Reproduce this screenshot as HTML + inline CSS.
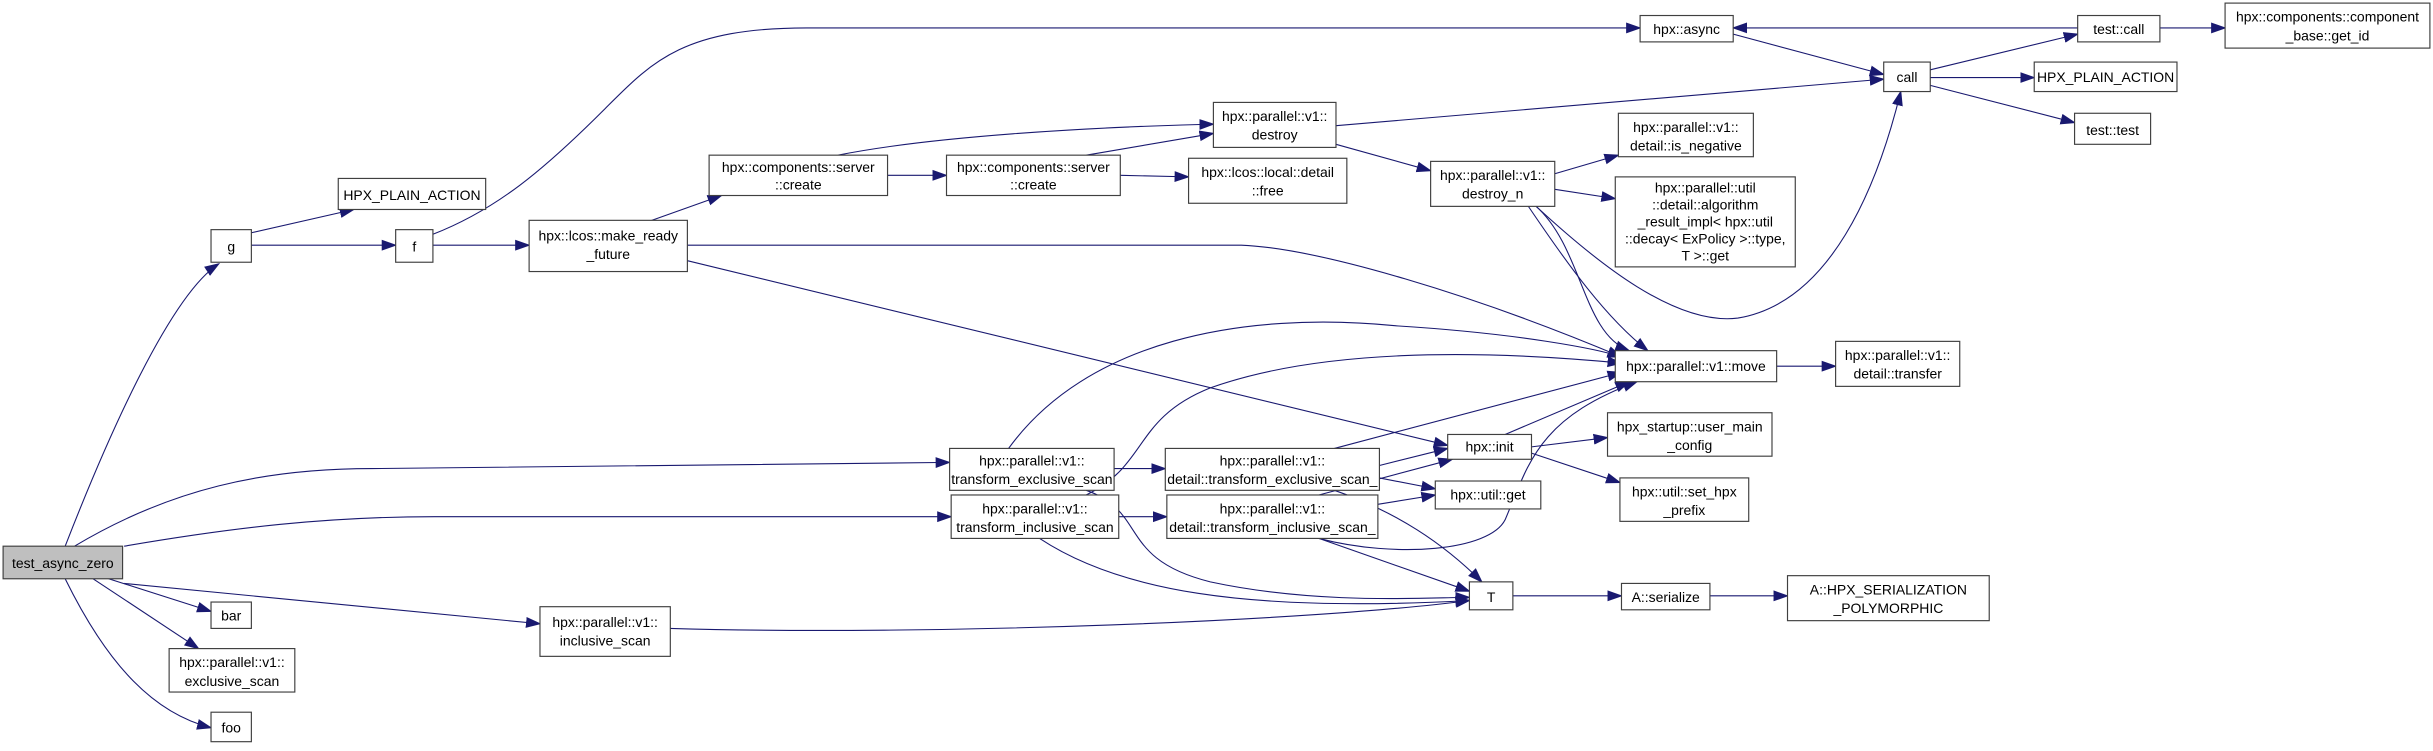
<!DOCTYPE html>
<html><head><meta charset="utf-8"><style>
html,body{margin:0;padding:0;background:#fff;}
svg{display:block;}
text{font-family:"Liberation Sans",sans-serif;font-size:9px;fill:#000;text-anchor:middle;}
.b{fill:#fff;stroke:#404040;stroke-width:0.75;}
.e{fill:none;stroke:#191970;stroke-width:0.7;}
</style></head><body>
<svg width="2433" height="751" viewBox="0 0 1568 484" preserveAspectRatio="none" xmlns="http://www.w3.org/2000/svg">
<defs><marker id="a" markerWidth="10" markerHeight="8" refX="9" refY="4" orient="auto" markerUnits="userSpaceOnUse"><path d="M0,0.5 L10,4 L0,7.5 z" fill="#191970"/></marker></defs>
<g class="e" marker-end="url(#a)">
<path d="M42,352 C70,280 110,190 141,170"/>
<path d="M162,150 L228,135"/>
<path d="M162,158 L255,158"/>
<path d="M279,151 C320,135 350,110 390,70 C420,40 440,18 520,18 L1057,18"/>
<path d="M279,158 L341,158"/>
<path d="M420,142 L465,126"/>
<path d="M443,158 L800,158 C850,160 950,190 1045,230"/>
<path d="M443,168 L933,287"/>
<path d="M572,113 L610,113"/>
<path d="M540,100 C600,88 700,82 782,80"/>
<path d="M700,100 L782,86"/>
<path d="M722,113 L766,114"/>
<path d="M861,81 L1214,51"/>
<path d="M861,93 L922,110"/>
<path d="M1002,112 L1043,100"/>
<path d="M1002,122 L1041,128"/>
<path d="M990,133 C1030,170 1080,210 1120,205 C1180,195 1210,120 1225,59"/>
<path d="M990,133 C1020,160 1020,215 1050,226"/>
<path d="M985,133 C1010,170 1035,205 1062,226"/>
<path d="M1117,22 L1214,48"/>
<path d="M1339,18 L1117,18"/>
<path d="M1244,45 L1339,22"/>
<path d="M1244,50 L1311,50"/>
<path d="M1244,55 L1337,79"/>
<path d="M1392,18 L1434,18"/>
<path d="M1145,236 L1183,236"/>
<path d="M48,352 C110,315 170,302 240,302 L612,298"/>
<path d="M80,352 C150,340 210,333 280,333 L613,333"/>
<path d="M70,373 L136,394"/>
<path d="M60,373 L128,418"/>
<path d="M42,373 C70,430 100,460 136,469"/>
<path d="M80,376 L348,402"/>
<path d="M432,405 C600,410 850,400 947,387"/>
<path d="M650,289 C700,220 800,200 900,210 C980,215 1030,225 1045,230"/>
<path d="M718,302 L751,302"/>
<path d="M700,316 C740,330 720,360 780,375 C850,390 920,385 947,385"/>
<path d="M700,319 C740,300 730,270 780,250 C850,225 950,225 1045,234"/>
<path d="M721,333 L752,333"/>
<path d="M670,347 C720,380 800,395 947,387"/>
<path d="M860,289 L1045,240"/>
<path d="M889,300 L933,289"/>
<path d="M889,308 L925,315"/>
<path d="M860,316 C900,330 930,350 955,375"/>
<path d="M850,319 L936,296"/>
<path d="M888,325 L925,319"/>
<path d="M850,347 L947,381"/>
<path d="M850,347 C900,360 960,355 970,335 C985,300 990,270 1055,246"/>
<path d="M970,280 L1050,246"/>
<path d="M987,288 L1036,282"/>
<path d="M987,292 L1044,311"/>
<path d="M975,384 L1045,384"/>
<path d="M1102,384 L1152,384"/>
</g>
<g>
<rect x="2" y="352" width="77" height="21" style="fill:#bfbfbf;stroke:#404040;stroke-width:0.75"/><text x="40.5" y="366">test_async_zero</text>
<rect class="b" x="136" y="148" width="26" height="21"/><text x="149" y="162">g</text>
<rect class="b" x="218" y="115" width="95" height="20"/><text x="265.5" y="129">HPX_PLAIN_ACTION</text>
<rect class="b" x="255" y="148" width="24" height="21"/><text x="267" y="162">f</text>
<rect class="b" x="341" y="142" width="102" height="33"/><text x="392" y="155">hpx::lcos::make_ready</text><text x="392" y="167">_future</text>
<rect class="b" x="457" y="100" width="115" height="26"/><text x="514.5" y="111">hpx::components::server</text><text x="514.5" y="122">::create</text>
<rect class="b" x="610" y="100" width="112" height="26"/><text x="666" y="111">hpx::components::server</text><text x="666" y="122">::create</text>
<rect class="b" x="782" y="66" width="79" height="29"/><text x="821.5" y="78">hpx::parallel::v1::</text><text x="821.5" y="90">destroy</text>
<rect class="b" x="766" y="102" width="102" height="29"/><text x="817" y="114">hpx::lcos::local::detail</text><text x="817" y="126">::free</text>
<rect class="b" x="922" y="104" width="80" height="29"/><text x="962" y="116">hpx::parallel::v1::</text><text x="962" y="128">destroy_n</text>
<rect class="b" x="1057" y="10" width="60" height="17"/><text x="1087" y="22">hpx::async</text>
<rect class="b" x="1214" y="40" width="30" height="19"/><text x="1229" y="53">call</text>
<rect class="b" x="1339" y="10" width="53" height="17"/><text x="1365.5" y="22">test::call</text>
<rect class="b" x="1434" y="2" width="132" height="29"/><text x="1500" y="14">hpx::components::component</text><text x="1500" y="26">_base::get_id</text>
<rect class="b" x="1311" y="40" width="92" height="19"/><text x="1357" y="53">HPX_PLAIN_ACTION</text>
<rect class="b" x="1337" y="73" width="49" height="20"/><text x="1361.5" y="87">test::test</text>
<rect class="b" x="1043" y="73" width="87" height="28"/><text x="1086.5" y="85">hpx::parallel::v1::</text><text x="1086.5" y="97">detail::is_negative</text>
<rect class="b" x="1041" y="114" width="116" height="58"/><text x="1099" y="124">hpx::parallel::util</text><text x="1099" y="135">::detail::algorithm</text><text x="1099" y="146">_result_impl&lt; hpx::util</text><text x="1099" y="157">::decay&lt; ExPolicy &gt;::type,</text><text x="1099" y="168">T &gt;::get</text>
<rect class="b" x="1041" y="226" width="104" height="20"/><text x="1093" y="239">hpx::parallel::v1::move</text>
<rect class="b" x="1183" y="220" width="80" height="29"/><text x="1223" y="232">hpx::parallel::v1::</text><text x="1223" y="244">detail::transfer</text>
<rect class="b" x="612" y="289" width="106" height="27"/><text x="665" y="300">hpx::parallel::v1::</text><text x="665" y="312">transform_exclusive_scan</text>
<rect class="b" x="613" y="319" width="108" height="28"/><text x="667" y="331">hpx::parallel::v1::</text><text x="667" y="343">transform_inclusive_scan</text>
<rect class="b" x="751" y="289" width="138" height="27"/><text x="820" y="300">hpx::parallel::v1::</text><text x="820" y="312">detail::transform_exclusive_scan_</text>
<rect class="b" x="752" y="319" width="136" height="28"/><text x="820" y="331">hpx::parallel::v1::</text><text x="820" y="343">detail::transform_inclusive_scan_</text>
<rect class="b" x="933" y="280" width="54" height="16"/><text x="960" y="291">hpx::init</text>
<rect class="b" x="925" y="310" width="68" height="18"/><text x="959" y="322">hpx::util::get</text>
<rect class="b" x="1036" y="266" width="106" height="28"/><text x="1089" y="278">hpx_startup::user_main</text><text x="1089" y="290">_config</text>
<rect class="b" x="1044" y="308" width="83" height="28"/><text x="1085.5" y="320">hpx::util::set_hpx</text><text x="1085.5" y="332">_prefix</text>
<rect class="b" x="947" y="375" width="28" height="18"/><text x="961" y="388">T</text>
<rect class="b" x="1045" y="376" width="57" height="17"/><text x="1073.5" y="388">A::serialize</text>
<rect class="b" x="1152" y="371" width="130" height="29"/><text x="1217" y="383">A::HPX_SERIALIZATION</text><text x="1217" y="395">_POLYMORPHIC</text>
<rect class="b" x="348" y="391" width="84" height="32"/><text x="390" y="404">hpx::parallel::v1::</text><text x="390" y="416">inclusive_scan</text>
<rect class="b" x="136" y="388" width="26" height="17"/><text x="149" y="400">bar</text>
<rect class="b" x="109" y="418" width="81" height="28"/><text x="149.5" y="430">hpx::parallel::v1::</text><text x="149.5" y="442">exclusive_scan</text>
<rect class="b" x="136" y="459" width="26" height="19"/><text x="149" y="472">foo</text>
</g>
</svg>
</body></html>
